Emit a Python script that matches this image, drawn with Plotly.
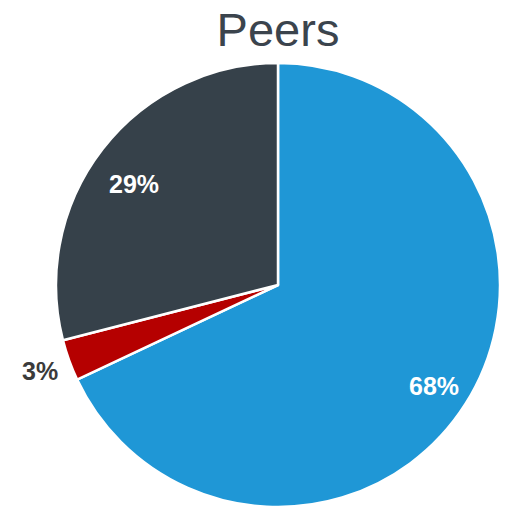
import math
import plotly.graph_objects as go

# Share of peers by group
groups = ["Group A", "Group B", "Group C"]
shares = [68, 3, 29]
colors = ["#1f97d6", "#b50000", "#36414a"]
label_colors = ["#ffffff", "#3b3b3b", "#ffffff"]
label_radius = [0.83, 1.14, 0.82]   # fraction of pie radius
label_yshift = [-2, 0, -11]         # small pixel nudges

W, H = 510, 512
L, R, T, B = 56, 10, 63, 5

fig = go.Figure(
    go.Pie(
        labels=groups,
        values=shares,
        sort=False,
        direction="clockwise",
        rotation=0,
        marker=dict(colors=colors, line=dict(color="#ffffff", width=2.5)),
        textinfo="none",
        hoverinfo="label+percent",
        showlegend=False,
    )
)

# Percentage labels placed along each slice's mid-angle
total = sum(shares)
start = 0.0
for val, col, rf, dy in zip(shares, label_colors, label_radius, label_yshift):
    mid = (start + val / 2) / total * 2 * math.pi
    start += val
    # paper coordinates: pie centered in the domain, radius 0.5 (square domain)
    x = 0.5 + 0.5 * rf * math.sin(mid)
    y = 0.5 + 0.5 * rf * math.cos(mid)
    fig.add_annotation(
        x=x, y=y, xref="paper", yref="paper", yshift=dy,
        text=f"{val / total * 100:.0f}%",
        showarrow=False,
        xanchor="center", yanchor="middle",
        font=dict(family="Liberation Sans, Arial, sans-serif", size=25,
                  color=col, weight="bold"),
    )

fig.update_layout(
    width=W,
    height=H,
    margin=dict(l=L, r=R, t=T, b=B),
    paper_bgcolor="#ffffff",
    plot_bgcolor="#ffffff",
    title=dict(
        text="Peers",
        x=(L + (W - L - R) / 2) / W,
        xanchor="center",
        y=0.942,
        yanchor="middle",
        font=dict(family="Liberation Sans, Arial, sans-serif", size=47, color="#3b444d"),
    ),
)

fig.write_html("out.html")
